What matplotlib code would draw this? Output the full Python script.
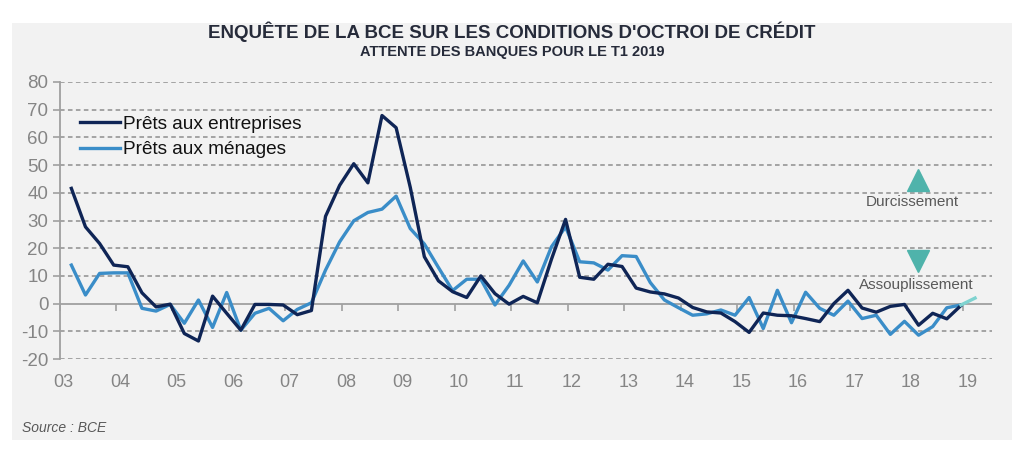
import matplotlib
matplotlib.use("Agg")
import matplotlib.pyplot as plt
from matplotlib.patches import Rectangle
import matplotlib.transforms as mtransforms

# ---------------- data ----------------
start_year = 2003
year_labels = ['03', '04', '05', '06', '07', '08', '09', '10', '11', '12',
               '13', '14', '15', '16', '17', '18', '19']
tick_years = list(range(2003, 2020))

entreprises = [41.6, 27.7, 21.7, 13.9, 13.3, 3.9, -1.2, -0.2,
               -10.8, -13.5, 2.7, -3.5, -9.6, -0.3, -0.3, -0.5,
               -4.0, -2.5, 31.5, 42.7, 50.5, 43.6, 67.9, 63.5,
               42.0, 16.9, 8.2, 4.3, 2.2, 10.0, 3.6, -0.2,
               2.6, 0.3, 16.0, 30.4, 9.5, 8.8, 14.2, 13.4,
               5.6, 4.2, 3.5, 2.0, -1.4, -3.0, -3.4, -6.5,
               -10.4, -3.4, -4.2, -4.4, -5.4, -6.5, 0.0, 4.8,
               -1.6, -3.1, -1.0, -0.3, -7.8, -3.5, -5.5, -0.7]

menages = [13.9, 3.1, 10.9, 11.1, 11.1, -1.7, -2.7, -0.3,
           -7.1, 1.3, -8.6, 4.0, -9.6, -3.5, -1.7, -6.2,
           -2.1, 0.3, 12.1, 22.3, 29.9, 32.9, 34.1, 38.8,
           27.1, 21.5, 13.0, 4.7, 8.8, 8.8, -0.5, 6.6,
           15.4, 7.8, 20.5, 27.7, 15.1, 14.7, 12.1, 17.3,
           17.0, 7.6, 1.3, -1.5, -4.2, -3.7, -2.3, -4.2,
           2.2, -9.0, 4.8, -6.9, 4.1, -1.7, -4.2, 0.9,
           -5.4, -4.2, -11.1, -6.4, -11.4, -8.3, -1.5, -0.5]

# expectation for Q1 2019 (starts at last observed quarter)
attente_index = [63, 64]
attente = [-0.5, 2.0]

series_labels = ['Prêts aux entreprises', 'Prêts aux ménages']

# ---------------- helpers ----------------
def qpos(i):
    # quarterly observation placed near the end of each quarter
    return start_year + i * 0.25 + 0.21

x_ent = [qpos(i) for i in range(len(entreprises))]
x_men = [qpos(i) for i in range(len(menages))]
x_att = [qpos(i) for i in attente_index]

# ---------------- styles ----------------
BG = '#f2f2f2'
NAVY = '#0f2556'
BLUE = '#3a8dc8'
TEAL = '#7fd3d0'
TRI = '#4fb3ab'
GRID = '#8e8e8e'
TICKTXT = '#858585'

fig = plt.figure(figsize=(10.24, 4.5), dpi=100)
fig.patch.set_facecolor('white')
fig.patches.append(Rectangle((12 / 1024, 1 - 440 / 450), 1000 / 1024, 417 / 450,
                             transform=fig.transFigure, facecolor=BG,
                             edgecolor='none', zorder=-10))

ax = fig.add_axes([59.5 / 1024, (450 - 359) / 450, (992 - 59.5) / 1024, 277 / 450])
ax.set_facecolor('none')
ax.set_zorder(2)

ax.set_xlim(2003.0, 2019.51)
ax.set_ylim(-20, 80)

# grid
yt = list(range(-20, 90, 10))
for v in yt:
    if v == 0:
        ax.axhline(v, color='#a0a0a0', lw=1.3, zorder=1)
    else:
        ax.axhline(v, color=GRID, lw=1.1, ls=(0, (3, 2.2)), zorder=1)

ax.plot(x_ent, entreprises, color=NAVY, lw=2.4, zorder=4, label=series_labels[0])
ax.plot(x_men, menages, color=BLUE, lw=2.4, zorder=3, label=series_labels[1])
ax.plot(x_att, attente, color=TEAL, lw=2.4, zorder=5)

# axes styling
for s in ['top', 'right', 'bottom']:
    ax.spines[s].set_visible(False)
ax.spines['left'].set_color('#a0a0a0')
ax.spines['left'].set_linewidth(1.3)

ax.set_yticks(yt)
ax.set_yticklabels([str(v) for v in yt], fontsize=13.5, color=TICKTXT,
                   family=['Liberation Sans', 'DejaVu Sans'])
ax.tick_params(axis='y', length=5, width=1.2, color='#a0a0a0', pad=3)

ax.set_xticks(tick_years)
ax.set_xticklabels(year_labels, fontsize=13, color=TICKTXT,
                   family=['Liberation Sans Narrow', 'Liberation Sans', 'DejaVu Sans'])
ax.tick_params(axis='x', length=0, pad=11)
offset = mtransforms.ScaledTranslation(4 / 100, 0, fig.dpi_scale_trans)
for lab in ax.get_xticklabels():
    lab.set_transform(lab.get_transform() + offset)

# tick marks on the zero line
sec = ax.secondary_xaxis(0.2)
sec.set_xticks(tick_years)
sec.set_xticklabels([])
sec.spines['bottom'].set_visible(False)
sec.tick_params(axis='x', length=5, width=1.2, color='#a0a0a0', direction='out')

# legend
leg = ax.legend(loc='upper left', bbox_to_anchor=(0.004, 0.94), frameon=False,
                handlelength=2.1, handletextpad=0.15, labelspacing=0.42,
                prop={'family': ['Liberation Sans', 'DejaVu Sans'], 'size': 13.7})
for t in leg.get_texts():
    t.set_color('#111111')

# annotations
ax.plot([2018.2], [44.6], marker='^', ms=16, color=TRI, ls='none', zorder=6)
ax.plot([2018.2], [15.3], marker='v', ms=16, color=TRI, ls='none', zorder=6)
ax.text(2018.1, 36.5, 'Durcissement', ha='center', va='center', fontsize=11,
        color='#595959', family=['Liberation Sans', 'DejaVu Sans'], zorder=6)
ax.text(2018.17, 6.6, 'Assouplissement', ha='center', va='center', fontsize=11,
        color='#595959', family=['Liberation Sans', 'DejaVu Sans'], zorder=6)

# titles
fig.text(0.5, 1 - 32 / 450, "ENQUÊTE DE LA BCE SUR LES CONDITIONS D'OCTROI DE CRÉDIT",
         ha='center', va='center', fontsize=13.5, fontweight='bold', color='#262b3a',
         family=['Liberation Sans Narrow', 'Liberation Sans', 'DejaVu Sans'])
fig.text(0.5, 1 - 52 / 450, 'ATTENTE DES BANQUES POUR LE T1 2019',
         ha='center', va='center', fontsize=10.5, fontweight='bold', color='#262b3a',
         family=['Liberation Sans Narrow', 'Liberation Sans', 'DejaVu Sans'])
fig.text(22 / 1024, 1 - 428 / 450, 'Source : BCE', ha='left', va='center',
         fontsize=10, style='italic', color='#595959',
         family=['Liberation Sans Narrow', 'Liberation Sans', 'DejaVu Sans'])

fig.savefig('out.png', dpi=100, facecolor='white')
